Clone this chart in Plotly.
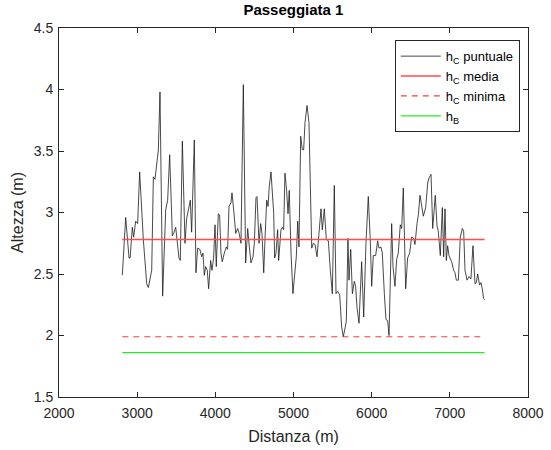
import plotly.graph_objects as go

# Distance along the walk (m) and pointwise height h_C (m)
distanza = [
    2810, 2853, 2896, 2910, 2938, 2955, 2981, 3006, 3032, 3079, 3122, 3143, 3186, 3207,
    3228, 3250, 3271, 3292, 3326, 3365, 3390, 3416, 3450, 3467, 3493, 3535, 3552, 3578,
    3612, 3633, 3663, 3680, 3697, 3731, 3752, 3774, 3803, 3825, 3842, 3859, 3876, 3897,
    3914, 3940, 3957, 3978, 3996, 4012, 4038, 4055, 4072, 4089, 4115, 4140, 4157, 4175,
    4200, 4213, 4235, 4261, 4286, 4305, 4328, 4358, 4388, 4414, 4435, 4456, 4482, 4499,
    4520, 4533, 4559, 4580, 4597, 4619, 4635, 4657, 4674, 4690, 4712, 4729, 4747, 4759,
    4776, 4797, 4810, 4840, 4857, 4874, 4891, 4912, 4930, 4946, 4968, 4993, 5019, 5036,
    5054, 5070, 5092, 5113, 5130, 5147, 5173, 5198, 5233, 5254, 5275, 5301, 5326, 5352,
    5369, 5394, 5420, 5446, 5471, 5497, 5522, 5544, 5565, 5591, 5616, 5637, 5663, 5676,
    5697, 5710, 5732, 5753, 5778, 5795, 5812, 5838, 5872, 5898, 5927, 5957, 5983, 6000,
    6021, 6051, 6076, 6093, 6119, 6136, 6162, 6183, 6205, 6222, 6256, 6273, 6298, 6320,
    6341, 6366, 6384, 6405, 6435, 6460, 6486, 6511, 6537, 6554, 6580, 6597, 6618, 6640,
    6661, 6691, 6717, 6733, 6759, 6781, 6797, 6814, 6836, 6852, 6878, 6904, 6921, 6938,
    6955, 6972, 6989, 7023, 7049, 7066, 7083, 7109, 7134, 7160, 7177, 7194, 7220, 7245,
    7270, 7296, 7322, 7339, 7356, 7381, 7398, 7415, 7432, 7445,
]
h_puntuale = [
    2.49, 2.96, 2.63, 2.63, 2.88, 2.80, 2.93, 2.91, 3.33, 2.78, 2.42, 2.39, 2.53, 3.29,
    3.27, 3.41, 3.51, 3.98, 2.32, 3.02, 3.10, 3.47, 2.81, 2.83, 2.88, 2.63, 2.61, 3.58,
    2.75, 2.95, 3.06, 3.10, 2.84, 3.59, 2.51, 2.71, 2.70, 2.64, 2.67, 2.49, 2.56, 2.53,
    2.38, 2.61, 2.53, 2.63, 2.90, 2.56, 2.99, 2.98, 2.67, 2.60, 2.67, 2.72, 2.70, 3.05,
    3.08, 3.16, 3.02, 2.83, 2.87, 2.83, 2.75, 4.04, 2.59, 2.87, 2.72, 2.59, 2.64, 2.75,
    3.12, 3.13, 2.75, 2.91, 2.83, 2.51, 2.78, 3.10, 3.05, 3.21, 3.33, 3.16, 2.99, 2.63,
    2.67, 2.86, 2.61, 2.86, 2.88, 2.86, 3.32, 3.18, 2.99, 3.18, 2.67, 2.34, 2.56, 2.64,
    2.93, 2.72, 3.62, 3.51, 3.51, 3.73, 3.87, 3.73, 2.71, 2.75, 2.74, 2.64, 2.83, 3.03,
    2.86, 3.03, 2.78, 2.77, 2.53, 2.34, 3.22, 2.34, 2.36, 2.33, 2.07, 1.99, 2.07, 2.12,
    2.79, 2.45, 2.70, 2.34, 2.44, 2.40, 2.23, 2.10, 2.60, 2.15, 2.75, 3.13, 2.76, 2.40,
    2.65, 2.65, 2.77, 2.71, 2.72, 2.67, 2.34, 2.13, 2.12, 2.00, 2.91, 2.56, 2.40, 2.62,
    2.67, 2.90, 2.87, 3.20, 2.38, 2.63, 2.67, 2.80, 2.79, 2.74, 2.91, 2.98, 3.14, 3.06,
    2.97, 3.04, 3.24, 3.28, 3.31, 2.87, 2.99, 3.14, 2.89, 2.85, 2.65, 3.04, 2.64, 3.03,
    2.61, 2.73, 2.65, 2.60, 2.53, 2.51, 2.45, 2.45, 2.80, 2.87, 2.85, 2.53, 2.45, 2.48,
    2.46, 2.73, 2.42, 2.43, 2.50, 2.41, 2.43, 2.38, 2.30, 2.29,
]

# Reference heights (m)
h_media = 2.78
h_minima = 1.99
h_b = 1.86

x_ticks = [2000, 3000, 4000, 5000, 6000, 7000, 8000]
y_ticks = [1.5, 2, 2.5, 3, 3.5, 4, 4.5]

FONT = "Liberation Sans, Arial, Helvetica, sans-serif"
AX = "#262626"

x_span = [distanza[0], distanza[-1]]

fig = go.Figure()
fig.add_trace(go.Scatter(x=distanza, y=h_puntuale, mode="lines",
                         line=dict(color="#1a1a1a", width=0.8),
                         name="h<sub>C</sub> puntuale"))
fig.add_trace(go.Scatter(x=x_span, y=[h_media] * 2, mode="lines",
                         line=dict(color="#ff4d4d", width=1.5),
                         name="h<sub>C</sub> media"))
fig.add_trace(go.Scatter(x=x_span, y=[h_minima] * 2, mode="lines",
                         line=dict(color="#ff3b3b", width=1.2, dash="6px,5px"),
                         name="h<sub>C</sub> minima"))
fig.add_trace(go.Scatter(x=x_span, y=[h_b] * 2, mode="lines",
                         line=dict(color="#22ee22", width=1.2),
                         name="h<sub>B</sub>"))

axis_common = dict(
    showline=True, linecolor=AX, linewidth=1, mirror="ticks",
    ticks="inside", ticklen=5, tickcolor=AX, tickwidth=1,
    showgrid=False, zeroline=False, automargin=False,
    tickfont=dict(family=FONT, size=14, color=AX),
)

fig.update_layout(
    width=551, height=450,
    margin=dict(l=59, r=23, t=28, b=53),
    paper_bgcolor="white", plot_bgcolor="white",
    title=dict(text="<b>Passeggiata 1</b>", x=0.5325, xanchor="center",
               y=0.978, yanchor="middle",
               font=dict(family=FONT, size=15, color="#000000")),
    xaxis=dict(range=[2000, 8000], tickvals=x_ticks,
               ticktext=[str(v) for v in x_ticks], ticklabelstandoff=3,
               title=dict(text="Distanza (m)", standoff=11,
                          font=dict(family=FONT, size=16, color=AX)),
               **axis_common),
    yaxis=dict(range=[1.5, 4.5], tickvals=y_ticks,
               ticktext=[f"{v:g}" for v in y_ticks], ticklabelstandoff=2,
               title=dict(text="Altezza (m)", standoff=6,
                          font=dict(family=FONT, size=16, color=AX)),
               **axis_common),
    legend=dict(x=0.9825, y=0.967, xanchor="right", yanchor="top",
                bgcolor="white", bordercolor=AX, borderwidth=1,
                font=dict(family=FONT, size=13, color="#000000"),
                itemwidth=40, tracegroupgap=0),
    showlegend=True,
)

fig.write_html("out.html")
